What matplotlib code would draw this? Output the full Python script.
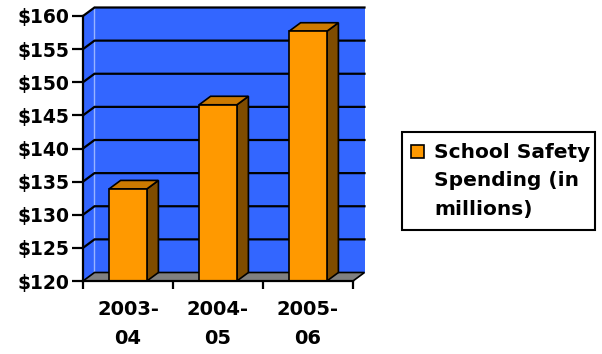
import matplotlib
matplotlib.use("Agg")
import matplotlib.pyplot as plt
from matplotlib.patches import Polygon, Rectangle

categories = ["2003-\n04", "2004-\n05", "2005-\n06"]
values = [133.9, 146.6, 157.7]
yticks = [120, 125, 130, 135, 140, 145, 150, 155, 160]
ytick_labels = ["$120", "$125", "$130", "$135", "$140", "$145", "$150", "$155", "$160"]
legend_label = "School Safety\nSpending (in\nmillions)"

W, H = 602, 354
fig = plt.figure(figsize=(W / 100, H / 100), dpi=100)
fig.patch.set_facecolor("white")

L, R, T, B = 83, 353, 16, 281
ax = fig.add_axes([L / W, 1 - B / H, (R - L) / W, (B - T) / H])
ax.set_xlim(-0.5, 2.5)
ax.set_ylim(120, 160)
ax.patch.set_visible(False)

pxx = (R - L) / 3.0
pxy = (B - T) / 40.0
dx = 11.5 / pxx
dy = 8.5 / pxy

wall = "#3366FF"
orange = "#FF9900"
side = "#7F4C00"
top = "#CC7A00"
floor = "#808080"

x0, x1 = -0.5, 2.5
y0, y1 = 120, 160
# side wall and back wall
ax.add_patch(Polygon([(x0, y0), (x0 + dx, y0 + dy), (x0 + dx, y1 + dy), (x0, y1)],
                     closed=True, facecolor=wall, edgecolor="none", clip_on=False, zorder=1))
ax.add_patch(Polygon([(x0 + dx, y0 + dy), (x1 + dx, y0 + dy), (x1 + dx, y1 + dy), (x0 + dx, y1 + dy)],
                     closed=True, facecolor=wall, edgecolor="none", clip_on=False, zorder=1))
ax.plot([x0 + dx, x0 + dx], [y0 + dy, y1 + dy], color="#99B3FF", lw=1.0, clip_on=False, zorder=2)
for v in yticks[1:]:
    ax.plot([x0, x0 + dx, x1 + dx], [v, v + dy, v + dy], color="black", lw=1.6,
            clip_on=False, zorder=2, solid_joinstyle="miter")
# floor
ax.add_patch(Polygon([(x0, y0), (x1, y0), (x1 + dx, y0 + dy), (x0 + dx, y0 + dy)],
                     closed=True, facecolor=floor, edgecolor="black", lw=1.2, clip_on=False, zorder=3))

bw = 0.42
for i, v in enumerate(values):
    xl, xr = i - bw / 2, i + bw / 2
    ax.add_patch(Polygon([(xr, y0), (xr + dx, y0 + dy), (xr + dx, v + dy), (xr, v)],
                         closed=True, facecolor=side, edgecolor="black", lw=1.2, clip_on=False, zorder=4))
    ax.add_patch(Polygon([(xl, v), (xr, v), (xr + dx, v + dy), (xl + dx, v + dy)],
                         closed=True, facecolor=top, edgecolor="black", lw=1.2, clip_on=False, zorder=4))
ax.bar(range(len(values)), [v - 120 for v in values], bottom=120, width=bw,
       color=orange, edgecolor="black", linewidth=1.2, zorder=5, clip_on=False)

for s in ["top", "right"]:
    ax.spines[s].set_visible(False)
for s in ["left", "bottom"]:
    ax.spines[s].set_linewidth(1.6)
    ax.spines[s].set_zorder(6)

yfont = dict(family="DejaVu Sans", weight="bold", size=13.5)
xfont = dict(family="DejaVu Sans", weight="bold", size=14)
lfont = dict(family="DejaVu Sans", weight="bold", size=14.5)
ax.set_yticks(yticks)
ax.set_yticklabels(ytick_labels, fontdict=yfont)
ax.tick_params(axis="y", length=8, width=1.6, pad=2)
ax.set_xticks(range(len(categories)))
ax.set_xticklabels(categories, fontdict=xfont, linespacing=1.65, va="top")
ax.set_xticks([-0.5, 0.5, 1.5, 2.5], minor=True)
ax.tick_params(axis="x", which="major", length=0, pad=14)
ax.tick_params(axis="x", which="minor", length=6, width=1.6)

# legend box
lx0, lx1, ly0, ly1 = 402, 595, 132, 230
fig.add_artist(Rectangle((lx0 / W, 1 - ly1 / H), (lx1 - lx0) / W, (ly1 - ly0) / H,
                         transform=fig.transFigure, facecolor="white", edgecolor="black", lw=1.5))
fig.add_artist(Rectangle((411 / W, 1 - 158 / H), 13 / W, 13 / H, transform=fig.transFigure,
                         facecolor=orange, edgecolor="black", lw=1.2))
fig.text(434 / W, 1 - 143 / H, legend_label, ha="left", va="top", linespacing=1.62, **lfont)

fig.savefig("out.png", dpi=100)
